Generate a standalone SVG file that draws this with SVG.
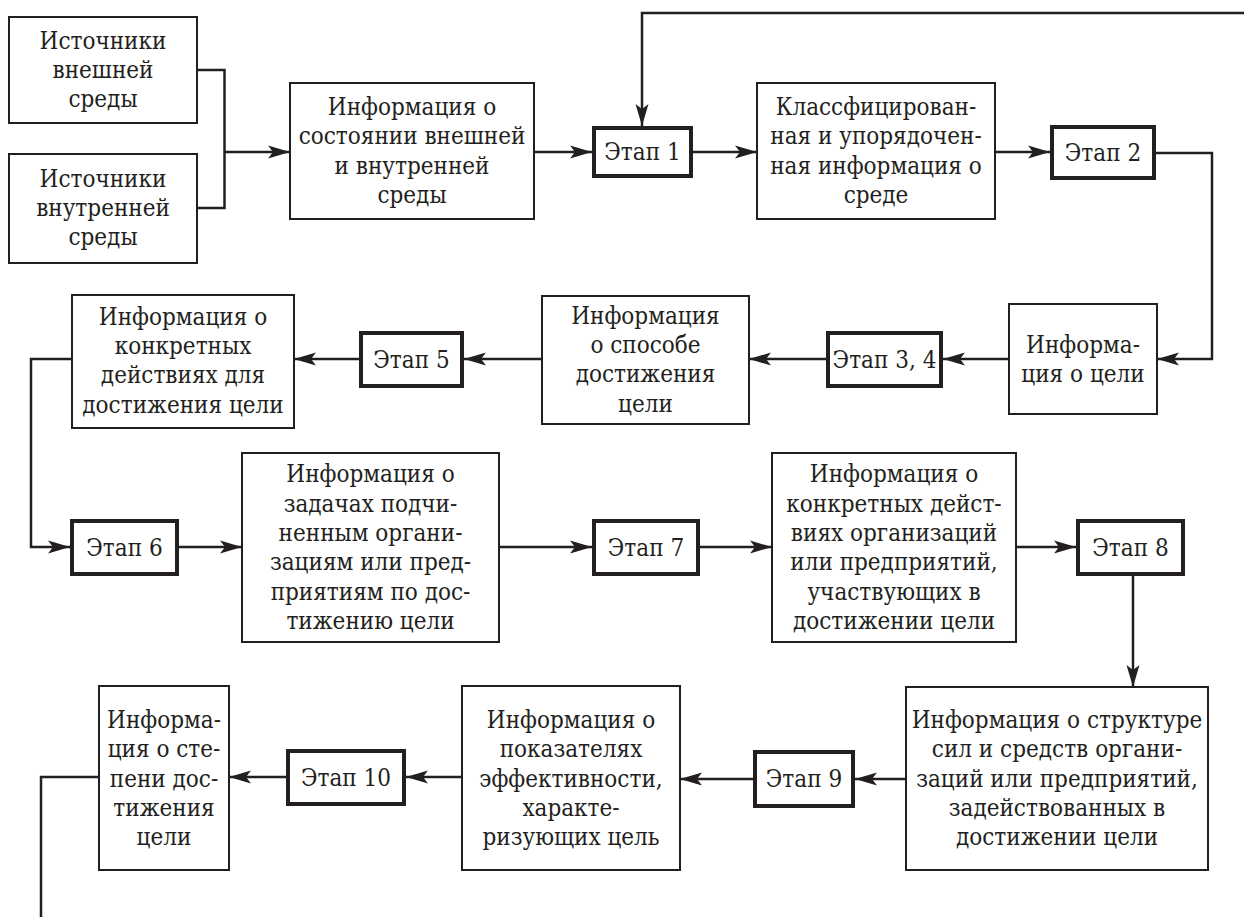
<svg xmlns="http://www.w3.org/2000/svg" width="1244" height="917" viewBox="0 0 1244 917">
<style>
  .box{fill:#fff;stroke:#231f20;stroke-width:2}
  .stage{fill:#fff;stroke:#231f20;stroke-width:4}
  .t{font-family:"DejaVu Serif Condensed","DejaVu Serif","Liberation Serif",serif;font-stretch:condensed;font-size:24px;fill:#231f20;text-anchor:middle;dominant-baseline:central}
  .c{fill:none;stroke:#231f20;stroke-width:2.5}
</style>
<defs>
  <marker id="arr" markerUnits="userSpaceOnUse" markerWidth="24" markerHeight="14" refX="22" refY="7" orient="auto">
    <path d="M0,0.5 L22,7 L0,13.5 L5,7 Z" fill="#231f20"/>
  </marker>
</defs>
<rect width="1244" height="917" fill="#fff"/>
<g id="connectors">
  <path class="c" d="M197,70 H224.5 V208 H197"/>
  <path class="c" d="M224.5,152 H290" marker-end="url(#arr)"/>
  <path class="c" d="M534,152 H592" marker-end="url(#arr)"/>
  <path class="c" d="M1244,13 H642 V126" marker-end="url(#arr)"/>
  <path class="c" d="M693,152 H757" marker-end="url(#arr)"/>
  <path class="c" d="M995,152 H1050" marker-end="url(#arr)"/>
  <path class="c" d="M1156,153 H1212 V359 H1157" marker-end="url(#arr)"/>
  <path class="c" d="M1009,359 H943" marker-end="url(#arr)"/>
  <path class="c" d="M826,359 H749" marker-end="url(#arr)"/>
  <path class="c" d="M542,359 H464" marker-end="url(#arr)"/>
  <path class="c" d="M359,359 H294" marker-end="url(#arr)"/>
  <path class="c" d="M72,359 H31 V547 H70" marker-end="url(#arr)"/>
  <path class="c" d="M179,547 H242" marker-end="url(#arr)"/>
  <path class="c" d="M499,547 H592" marker-end="url(#arr)"/>
  <path class="c" d="M700,547 H772" marker-end="url(#arr)"/>
  <path class="c" d="M1016,547 H1076" marker-end="url(#arr)"/>
  <path class="c" d="M1133,576 V687" marker-end="url(#arr)"/>
  <path class="c" d="M906,779 H855" marker-end="url(#arr)"/>
  <path class="c" d="M753,779 H680" marker-end="url(#arr)"/>
  <path class="c" d="M462,777 H406" marker-end="url(#arr)"/>
  <path class="c" d="M286,777 H229" marker-end="url(#arr)"/>
  <path class="c" d="M99,777 H41 V917"/>
</g>
<g id="src-ext">
  <rect class="box" x="9" y="17" width="188" height="106"/>
  <text class="t" x="103" y="41">Источники</text>
  <text class="t" x="103" y="70">внешней</text>
  <text class="t" x="103" y="99">среды</text>
</g>
<g id="src-int">
  <rect class="box" x="9" y="154" width="188" height="109"/>
  <text class="t" x="103" y="179">Источники</text>
  <text class="t" x="103" y="208">внутренней</text>
  <text class="t" x="103" y="237">среды</text>
</g>
<g id="info-env">
  <rect class="box" x="290" y="83" width="244" height="136"/>
  <text class="t" x="412" y="107">Информация о</text>
  <text class="t" x="412" y="136">состоянии внешней</text>
  <text class="t" x="412" y="166">и внутренней</text>
  <text class="t" x="412" y="195">среды</text>
</g>
<g id="stage1">
  <rect class="stage" x="594" y="128" width="97" height="48"/>
  <text class="t" x="642.5" y="152">Этап 1</text>
</g>
<g id="info-class">
  <rect class="box" x="757" y="83" width="238" height="136"/>
  <text class="t" x="876" y="107">Классфицирован-</text>
  <text class="t" x="876" y="136">ная и упорядочен-</text>
  <text class="t" x="876" y="166">ная информация о</text>
  <text class="t" x="876" y="195">среде</text>
</g>
<g id="stage2">
  <rect class="stage" x="1052" y="127" width="102" height="51"/>
  <text class="t" x="1103" y="152.5">Этап 2</text>
</g>
<g id="info-goal">
  <rect class="box" x="1009" y="304" width="148" height="110"/>
  <text class="t" x="1083" y="345">Информа-</text>
  <text class="t" x="1083" y="374">ция о цели</text>
</g>
<g id="stage34">
  <rect class="stage" x="828" y="333" width="113" height="53"/>
  <text class="t" x="884.5" y="359.5">Этап 3, 4</text>
</g>
<g id="info-method">
  <rect class="box" x="542" y="296" width="207" height="128"/>
  <text class="t" x="645.5" y="316">Информация</text>
  <text class="t" x="645.5" y="345">о способе</text>
  <text class="t" x="645.5" y="374">достижения</text>
  <text class="t" x="645.5" y="404">цели</text>
</g>
<g id="stage5">
  <rect class="stage" x="361" y="333" width="101" height="53"/>
  <text class="t" x="411.5" y="359.5">Этап 5</text>
</g>
<g id="info-actions">
  <rect class="box" x="72" y="295" width="222" height="133"/>
  <text class="t" x="183" y="317">Информация о</text>
  <text class="t" x="183" y="346">конкретных</text>
  <text class="t" x="183" y="375">действиях для</text>
  <text class="t" x="183" y="405">достижения цели</text>
</g>
<g id="stage6">
  <rect class="stage" x="72" y="521" width="105" height="53"/>
  <text class="t" x="124.5" y="547.5">Этап 6</text>
</g>
<g id="info-tasks">
  <rect class="box" x="242" y="453" width="257" height="189"/>
  <text class="t" x="370.5" y="474">Информация о</text>
  <text class="t" x="370.5" y="504">задачах подчи-</text>
  <text class="t" x="370.5" y="533">ненным органи-</text>
  <text class="t" x="370.5" y="562">зациям или пред-</text>
  <text class="t" x="370.5" y="592">приятиям по дос-</text>
  <text class="t" x="370.5" y="621">тижению цели</text>
</g>
<g id="stage7">
  <rect class="stage" x="594" y="521" width="104" height="53"/>
  <text class="t" x="646" y="547.5">Этап 7</text>
</g>
<g id="info-org-actions">
  <rect class="box" x="772" y="453" width="244" height="189"/>
  <text class="t" x="894" y="474">Информация о</text>
  <text class="t" x="894" y="504">конкретных дейст-</text>
  <text class="t" x="894" y="533">виях организаций</text>
  <text class="t" x="894" y="562">или предприятий,</text>
  <text class="t" x="894" y="592">участвующих в</text>
  <text class="t" x="894" y="621">достижении цели</text>
</g>
<g id="stage8">
  <rect class="stage" x="1078" y="521" width="105" height="53"/>
  <text class="t" x="1130.5" y="547.5">Этап 8</text>
</g>
<g id="info-structure">
  <rect class="box" x="906" y="687" width="302" height="183"/>
  <text class="t" x="1057" y="720">Информация о структуре</text>
  <text class="t" x="1057" y="749">сил и средств органи-</text>
  <text class="t" x="1057" y="778.5">заций или предприятий,</text>
  <text class="t" x="1057" y="808">задействованных в</text>
  <text class="t" x="1057" y="837">достижении цели</text>
</g>
<g id="stage9">
  <rect class="stage" x="755" y="752" width="98" height="54"/>
  <text class="t" x="804" y="779">Этап 9</text>
</g>
<g id="info-indicators">
  <rect class="box" x="462" y="686" width="218" height="184"/>
  <text class="t" x="571" y="720">Информация о</text>
  <text class="t" x="571" y="749">показателях</text>
  <text class="t" x="571" y="778.5">эффективности,</text>
  <text class="t" x="571" y="808">характе-</text>
  <text class="t" x="571" y="837">ризующих цель</text>
</g>
<g id="stage10">
  <rect class="stage" x="288" y="751" width="116" height="53"/>
  <text class="t" x="346" y="777.5">Этап 10</text>
</g>
<g id="info-degree">
  <rect class="box" x="99" y="686" width="130" height="184"/>
  <text class="t" x="164" y="720">Информа-</text>
  <text class="t" x="164" y="749">ция о сте-</text>
  <text class="t" x="164" y="778.5">пени дос-</text>
  <text class="t" x="164" y="808">тижения</text>
  <text class="t" x="164" y="837">цели</text>
</g>
</svg>
